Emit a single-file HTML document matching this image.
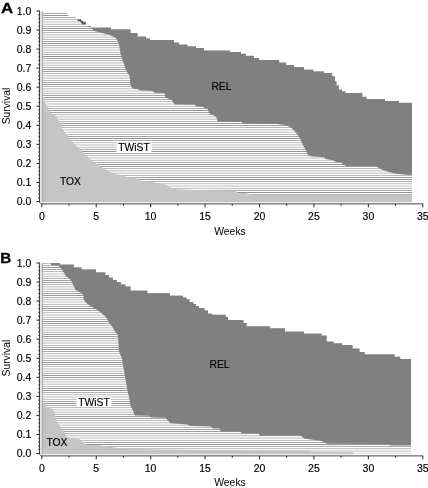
<!DOCTYPE html>
<html><head><meta charset="utf-8"><title>Partitioned survival plots</title>
<style>
html,body{margin:0;padding:0;background:#fff;}
body{width:428px;height:488px;overflow:hidden;}
svg{display:block;font-family:"Liberation Sans",sans-serif;}
</style></head><body>
<svg width="428" height="488" viewBox="0 0 428 488">
<rect width="428" height="488" fill="#fff"/>
<defs>
<pattern id="hatchA" patternUnits="userSpaceOnUse" x="0" y="10.800" width="10" height="2.159"><rect width="10" height="2.159" fill="#fff"/><rect y="0" width="10" height="0.40" fill="#363636"/></pattern>
<pattern id="hatchB" patternUnits="userSpaceOnUse" x="0" y="262.800" width="10" height="2.159"><rect width="10" height="2.159" fill="#fff"/><rect y="0" width="10" height="0.40" fill="#363636"/></pattern>
</defs>
<clipPath id="cA"><polygon points="41.8,12.3 67.1,12.3 67.1,14.5 68.3,14.5 68.3,16.9 75.9,16.9 75.9,19.1 81.1,19.1 81.1,21.4 85.8,21.4 85.8,23.8 86.5,23.8 86.5,26.0 91.0,26.0 91.0,27.6 111.0,27.6 111.0,29.2 130.5,29.2 130.5,33.0 137.6,33.0 137.6,36.6 146.0,36.6 146.0,38.2 150.0,38.2 150.0,40.0 174.0,40.0 174.0,42.5 179.0,42.5 179.0,44.5 187.5,44.5 187.5,46.2 196.0,46.2 196.0,48.0 204.0,48.0 204.0,50.5 230.0,50.5 230.0,52.0 241.0,52.0 241.0,53.7 246.0,53.7 246.0,55.7 254.0,55.7 254.0,58.0 259.0,58.0 259.0,60.0 279.0,60.0 279.0,62.5 286.0,62.5 286.0,65.0 294.0,65.0 294.0,67.0 304.0,67.0 304.0,69.7 313.3,69.7 313.3,71.4 323.9,71.4 323.9,73.0 332.1,73.0 332.1,76.3 335.0,76.3 335.0,81.2 336.5,81.2 336.5,85.3 338.8,85.3 338.8,89.4 342.0,89.4 342.0,91.3 345.5,91.3 345.5,93.0 362.4,93.0 362.4,96.7 366.5,96.7 366.5,98.9 385.0,98.9 385.0,101.1 399.0,101.1 399.0,102.8 412.0,102.8 412.0,201.5 41.8,201.5"/></clipPath>
<g clip-path="url(#cA)">
<rect x="41.8" y="9.0" width="370.2" height="194.5" fill="url(#hatchA)"/>
<polygon points="87.5,8.0 87.5,25.6 87.5,26.6 91.0,27.4 92.5,29.5 95.0,31.2 103.0,33.2 110.0,35.0 116.0,38.0 119.0,44.0 120.5,53.7 122.7,61.0 125.0,67.0 126.0,70.0 129.5,76.0 130.5,85.0 132.5,88.6 138.4,89.2 140.1,90.4 152.4,91.0 154.7,92.7 164.7,93.0 165.3,97.5 171.7,99.9 172.9,102.2 175.2,104.5 195.0,104.8 196.2,106.4 203.5,106.7 204.0,108.4 207.6,108.7 208.8,112.5 210.5,114.3 215.2,116.0 217.0,118.4 217.5,121.7 241.5,122.0 242.6,123.3 277.0,124.0 285.4,125.1 291.0,127.6 294.5,131.1 298.0,135.3 300.9,140.2 303.0,145.2 305.8,150.0 307.9,155.0 312.0,156.4 324.2,157.3 325.6,158.9 333.3,160.3 335.4,161.7 341.7,162.4 342.4,164.1 346.0,165.9 376.0,166.2 378.5,167.8 383.0,170.3 394.5,173.4 405.8,174.8 412.0,175.0 413.0,175.0 413.0,8.0" fill="#808080"/>
</g>
<rect x="77.6" y="19.3" width="3.5" height="1.9" fill="#5c5c5c"/>
<rect x="80.3" y="20.6" width="2.7" height="2.0" fill="#5c5c5c"/>
<rect x="81.6" y="21.8" width="4.2" height="2.6" fill="#5c5c5c"/>
<polygon points="41.0,97.0 41.9,97.0 42.8,99.2 44.9,102.7 47.7,107.6 49.8,112.5 56.1,116.0 58.9,121.0 61.0,126.6 64.5,132.2 68.8,137.1 73.0,142.0 76.5,146.4 79.2,148.4 84.8,154.0 89.0,158.2 93.2,161.7 99.5,166.0 107.3,170.2 114.3,173.7 124.1,175.8 125.5,177.2 135.6,177.5 138.4,180.2 153.1,182.3 165.0,184.4 172.0,187.9 176.3,189.3 195.0,190.0 236.0,191.0 237.5,193.0 245.0,193.0 252.5,194.8 412.0,194.8 412.0,202.2 41.0,202.2" fill="#c5c5c5"/>
<rect x="40.3" y="11.3" width="2.2" height="190.9" fill="#d9d9d9"/>
<rect x="42.4" y="11.3" width="0.7" height="190.9" fill="#9a9a9a"/>
<g stroke="#222" stroke-width="0.85" fill="none">
<polyline points="39.5,10.6 39.5,202.2 41.2,203.9 423.2,203.9"/>
</g><g stroke="#222" stroke-width="1">
<line x1="36.4" y1="201.50" x2="39.5" y2="201.50"/>
<line x1="38.3" y1="197.69" x2="39.5" y2="197.69"/>
<line x1="38.3" y1="193.88" x2="39.5" y2="193.88"/>
<line x1="38.3" y1="190.07" x2="39.5" y2="190.07"/>
<line x1="38.3" y1="186.26" x2="39.5" y2="186.26"/>
<line x1="36.4" y1="182.45" x2="39.5" y2="182.45"/>
<line x1="38.3" y1="178.64" x2="39.5" y2="178.64"/>
<line x1="38.3" y1="174.83" x2="39.5" y2="174.83"/>
<line x1="38.3" y1="171.02" x2="39.5" y2="171.02"/>
<line x1="38.3" y1="167.21" x2="39.5" y2="167.21"/>
<line x1="36.4" y1="163.40" x2="39.5" y2="163.40"/>
<line x1="38.3" y1="159.59" x2="39.5" y2="159.59"/>
<line x1="38.3" y1="155.78" x2="39.5" y2="155.78"/>
<line x1="38.3" y1="151.97" x2="39.5" y2="151.97"/>
<line x1="38.3" y1="148.16" x2="39.5" y2="148.16"/>
<line x1="36.4" y1="144.35" x2="39.5" y2="144.35"/>
<line x1="38.3" y1="140.54" x2="39.5" y2="140.54"/>
<line x1="38.3" y1="136.73" x2="39.5" y2="136.73"/>
<line x1="38.3" y1="132.92" x2="39.5" y2="132.92"/>
<line x1="38.3" y1="129.11" x2="39.5" y2="129.11"/>
<line x1="36.4" y1="125.30" x2="39.5" y2="125.30"/>
<line x1="38.3" y1="121.49" x2="39.5" y2="121.49"/>
<line x1="38.3" y1="117.68" x2="39.5" y2="117.68"/>
<line x1="38.3" y1="113.87" x2="39.5" y2="113.87"/>
<line x1="38.3" y1="110.06" x2="39.5" y2="110.06"/>
<line x1="36.4" y1="106.25" x2="39.5" y2="106.25"/>
<line x1="38.3" y1="102.44" x2="39.5" y2="102.44"/>
<line x1="38.3" y1="98.63" x2="39.5" y2="98.63"/>
<line x1="38.3" y1="94.82" x2="39.5" y2="94.82"/>
<line x1="38.3" y1="91.01" x2="39.5" y2="91.01"/>
<line x1="36.4" y1="87.20" x2="39.5" y2="87.20"/>
<line x1="38.3" y1="83.39" x2="39.5" y2="83.39"/>
<line x1="38.3" y1="79.58" x2="39.5" y2="79.58"/>
<line x1="38.3" y1="75.77" x2="39.5" y2="75.77"/>
<line x1="38.3" y1="71.96" x2="39.5" y2="71.96"/>
<line x1="36.4" y1="68.15" x2="39.5" y2="68.15"/>
<line x1="38.3" y1="64.34" x2="39.5" y2="64.34"/>
<line x1="38.3" y1="60.53" x2="39.5" y2="60.53"/>
<line x1="38.3" y1="56.72" x2="39.5" y2="56.72"/>
<line x1="38.3" y1="52.91" x2="39.5" y2="52.91"/>
<line x1="36.4" y1="49.10" x2="39.5" y2="49.10"/>
<line x1="38.3" y1="45.29" x2="39.5" y2="45.29"/>
<line x1="38.3" y1="41.48" x2="39.5" y2="41.48"/>
<line x1="38.3" y1="37.67" x2="39.5" y2="37.67"/>
<line x1="38.3" y1="33.86" x2="39.5" y2="33.86"/>
<line x1="36.4" y1="30.05" x2="39.5" y2="30.05"/>
<line x1="38.3" y1="26.24" x2="39.5" y2="26.24"/>
<line x1="38.3" y1="22.43" x2="39.5" y2="22.43"/>
<line x1="38.3" y1="18.62" x2="39.5" y2="18.62"/>
<line x1="38.3" y1="14.81" x2="39.5" y2="14.81"/>
<line x1="36.4" y1="11.00" x2="39.5" y2="11.00"/>
<line x1="41.80" y1="203.9" x2="41.80" y2="207.3"/>
<line x1="69.01" y1="203.9" x2="69.01" y2="205.7"/>
<line x1="96.22" y1="203.9" x2="96.22" y2="207.3"/>
<line x1="123.44" y1="203.9" x2="123.44" y2="205.7"/>
<line x1="150.65" y1="203.9" x2="150.65" y2="207.3"/>
<line x1="177.86" y1="203.9" x2="177.86" y2="205.7"/>
<line x1="205.07" y1="203.9" x2="205.07" y2="207.3"/>
<line x1="232.29" y1="203.9" x2="232.29" y2="205.7"/>
<line x1="259.50" y1="203.9" x2="259.50" y2="207.3"/>
<line x1="286.71" y1="203.9" x2="286.71" y2="205.7"/>
<line x1="313.93" y1="203.9" x2="313.93" y2="207.3"/>
<line x1="341.14" y1="203.9" x2="341.14" y2="205.7"/>
<line x1="368.35" y1="203.9" x2="368.35" y2="207.3"/>
<line x1="395.56" y1="203.9" x2="395.56" y2="205.7"/>
<line x1="422.77" y1="203.9" x2="422.77" y2="207.3"/>
</g>
<g font-size="10.5" fill="#000" stroke="#000" stroke-width="0.15">
<text x="31.3" y="205.3" text-anchor="end">0.0</text>
<text x="31.3" y="186.2" text-anchor="end">0.1</text>
<text x="31.3" y="167.2" text-anchor="end">0.2</text>
<text x="31.3" y="148.2" text-anchor="end">0.3</text>
<text x="31.3" y="129.1" text-anchor="end">0.4</text>
<text x="31.3" y="110.0" text-anchor="end">0.5</text>
<text x="31.3" y="91.0" text-anchor="end">0.6</text>
<text x="31.3" y="72.0" text-anchor="end">0.7</text>
<text x="31.3" y="52.9" text-anchor="end">0.8</text>
<text x="31.3" y="33.9" text-anchor="end">0.9</text>
<text x="31.3" y="14.8" text-anchor="end">1.0</text>
<text x="41.8" y="219.8" text-anchor="middle">0</text>
<text x="96.2" y="219.8" text-anchor="middle">5</text>
<text x="150.6" y="219.8" text-anchor="middle">10</text>
<text x="205.1" y="219.8" text-anchor="middle">15</text>
<text x="259.5" y="219.8" text-anchor="middle">20</text>
<text x="313.9" y="219.8" text-anchor="middle">25</text>
<text x="368.4" y="219.8" text-anchor="middle">30</text>
<text x="422.8" y="219.8" text-anchor="middle">35</text>
</g>
<text x="230" y="234.9" text-anchor="middle" font-size="10.4" fill="#000">Weeks</text>
<text transform="translate(9.5,106.0) rotate(-90)" text-anchor="middle" font-size="10.3" fill="#000">Survival</text>
<text transform="translate(1.0,12.5) scale(1.17,1)" font-size="14.4" font-weight="bold" fill="#000" stroke="#000" stroke-width="0.3">A</text>
<rect x="116.5" y="142.4" width="35" height="9.6" fill="#fff"/>
<text x="134.0" y="150.9" text-anchor="middle" font-size="10.3" fill="#000" stroke="#000" stroke-width="0.15">TWiST</text>
<text x="70.5" y="184.7" text-anchor="middle" font-size="10.3" fill="#000" stroke="#000" stroke-width="0.15">TOX</text>
<text x="221.4" y="90.3" text-anchor="middle" font-size="10.3" fill="#000" stroke="#000" stroke-width="0.15">REL</text>
<clipPath id="cB"><polygon points="41.8,263.0 59.7,263.0 59.7,264.6 73.8,264.6 73.8,267.6 81.5,267.6 81.5,269.5 96.0,269.5 96.0,272.3 105.4,272.3 105.4,275.0 109.0,275.0 109.0,277.6 113.0,277.6 113.0,280.0 117.0,280.0 117.0,282.3 121.0,282.3 121.0,284.4 125.5,284.4 125.5,286.5 130.5,286.5 130.5,290.4 147.5,290.4 147.5,293.3 170.0,293.3 170.0,295.7 183.0,295.7 183.0,297.5 186.5,297.5 186.5,299.3 189.5,299.3 189.5,302.0 193.5,302.0 193.5,304.0 196.0,304.0 196.0,306.0 199.0,306.0 199.0,308.0 204.5,308.0 204.5,310.6 208.0,310.6 208.0,313.4 212.0,313.4 212.0,314.8 225.8,314.8 225.8,317.0 228.0,317.0 228.0,319.9 243.5,319.9 243.5,323.0 246.5,323.0 246.5,326.3 270.0,326.3 270.0,328.3 285.0,328.3 285.0,331.5 304.0,331.5 304.0,333.5 321.5,333.5 321.5,335.6 326.7,335.6 326.7,341.5 333.6,341.5 333.6,343.2 342.0,343.2 342.0,345.0 352.6,345.0 352.6,348.4 359.5,348.4 359.5,352.0 364.7,352.0 364.7,354.2 394.6,354.2 394.6,356.7 400.2,356.7 400.2,359.1 411.0,359.1 411.0,453.5 41.8,453.5"/></clipPath>
<g clip-path="url(#cB)">
<rect x="41.8" y="261.0" width="369.2" height="194.5" fill="url(#hatchB)"/>
<polygon points="51.0,260.0 51.0,263.2 51.0,265.0 58.4,265.5 62.6,270.6 65.8,275.9 71.0,280.0 75.2,289.5 80.5,292.7 83.5,295.0 83.6,299.7 87.0,303.8 91.7,306.7 96.4,309.6 102.2,313.7 106.3,317.2 108.6,321.9 112.1,326.5 115.0,331.2 118.0,335.3 118.4,342.0 119.0,351.2 121.8,358.2 123.2,366.6 125.3,377.9 126.7,386.3 128.1,393.3 129.0,397.0 130.4,405.4 133.2,411.0 134.6,415.4 149.3,415.7 150.8,417.5 165.5,417.8 167.6,420.2 170.4,423.2 187.5,424.5 190.0,426.0 211.0,426.6 213.0,428.6 219.0,428.6 221.0,431.5 240.5,431.5 242.0,433.5 258.5,433.5 260.0,435.8 301.0,435.8 304.0,438.4 321.5,441.0 326.7,443.8 389.0,444.0 390.0,445.6 411.0,445.6 412.0,445.6 412.0,260.0" fill="#808080"/>
</g>
<polygon points="41.0,400.0 41.9,400.0 42.8,402.0 46.3,406.9 52.6,409.0 54.7,413.2 55.4,418.8 58.2,423.0 61.0,428.0 64.5,432.2 66.6,437.1 72.3,438.5 80.0,439.2 83.5,443.4 86.3,444.8 100.0,445.3 105.0,446.3 117.5,448.0 126.0,449.0 200.0,450.0 311.0,450.6 311.0,452.0 353.0,452.2 353.0,453.5 353.0,454.2 41.0,454.2" fill="#c5c5c5"/>
<rect x="40.3" y="263.3" width="2.2" height="190.9" fill="#d9d9d9"/>
<rect x="42.4" y="263.3" width="0.7" height="190.9" fill="#9a9a9a"/>
<g stroke="#222" stroke-width="0.85" fill="none">
<polyline points="39.5,262.6 39.5,454.2 41.2,455.9 423.2,455.9"/>
</g><g stroke="#222" stroke-width="1">
<line x1="36.4" y1="453.50" x2="39.5" y2="453.50"/>
<line x1="38.3" y1="449.69" x2="39.5" y2="449.69"/>
<line x1="38.3" y1="445.88" x2="39.5" y2="445.88"/>
<line x1="38.3" y1="442.07" x2="39.5" y2="442.07"/>
<line x1="38.3" y1="438.26" x2="39.5" y2="438.26"/>
<line x1="36.4" y1="434.45" x2="39.5" y2="434.45"/>
<line x1="38.3" y1="430.64" x2="39.5" y2="430.64"/>
<line x1="38.3" y1="426.83" x2="39.5" y2="426.83"/>
<line x1="38.3" y1="423.02" x2="39.5" y2="423.02"/>
<line x1="38.3" y1="419.21" x2="39.5" y2="419.21"/>
<line x1="36.4" y1="415.40" x2="39.5" y2="415.40"/>
<line x1="38.3" y1="411.59" x2="39.5" y2="411.59"/>
<line x1="38.3" y1="407.78" x2="39.5" y2="407.78"/>
<line x1="38.3" y1="403.97" x2="39.5" y2="403.97"/>
<line x1="38.3" y1="400.16" x2="39.5" y2="400.16"/>
<line x1="36.4" y1="396.35" x2="39.5" y2="396.35"/>
<line x1="38.3" y1="392.54" x2="39.5" y2="392.54"/>
<line x1="38.3" y1="388.73" x2="39.5" y2="388.73"/>
<line x1="38.3" y1="384.92" x2="39.5" y2="384.92"/>
<line x1="38.3" y1="381.11" x2="39.5" y2="381.11"/>
<line x1="36.4" y1="377.30" x2="39.5" y2="377.30"/>
<line x1="38.3" y1="373.49" x2="39.5" y2="373.49"/>
<line x1="38.3" y1="369.68" x2="39.5" y2="369.68"/>
<line x1="38.3" y1="365.87" x2="39.5" y2="365.87"/>
<line x1="38.3" y1="362.06" x2="39.5" y2="362.06"/>
<line x1="36.4" y1="358.25" x2="39.5" y2="358.25"/>
<line x1="38.3" y1="354.44" x2="39.5" y2="354.44"/>
<line x1="38.3" y1="350.63" x2="39.5" y2="350.63"/>
<line x1="38.3" y1="346.82" x2="39.5" y2="346.82"/>
<line x1="38.3" y1="343.01" x2="39.5" y2="343.01"/>
<line x1="36.4" y1="339.20" x2="39.5" y2="339.20"/>
<line x1="38.3" y1="335.39" x2="39.5" y2="335.39"/>
<line x1="38.3" y1="331.58" x2="39.5" y2="331.58"/>
<line x1="38.3" y1="327.77" x2="39.5" y2="327.77"/>
<line x1="38.3" y1="323.96" x2="39.5" y2="323.96"/>
<line x1="36.4" y1="320.15" x2="39.5" y2="320.15"/>
<line x1="38.3" y1="316.34" x2="39.5" y2="316.34"/>
<line x1="38.3" y1="312.53" x2="39.5" y2="312.53"/>
<line x1="38.3" y1="308.72" x2="39.5" y2="308.72"/>
<line x1="38.3" y1="304.91" x2="39.5" y2="304.91"/>
<line x1="36.4" y1="301.10" x2="39.5" y2="301.10"/>
<line x1="38.3" y1="297.29" x2="39.5" y2="297.29"/>
<line x1="38.3" y1="293.48" x2="39.5" y2="293.48"/>
<line x1="38.3" y1="289.67" x2="39.5" y2="289.67"/>
<line x1="38.3" y1="285.86" x2="39.5" y2="285.86"/>
<line x1="36.4" y1="282.05" x2="39.5" y2="282.05"/>
<line x1="38.3" y1="278.24" x2="39.5" y2="278.24"/>
<line x1="38.3" y1="274.43" x2="39.5" y2="274.43"/>
<line x1="38.3" y1="270.62" x2="39.5" y2="270.62"/>
<line x1="38.3" y1="266.81" x2="39.5" y2="266.81"/>
<line x1="36.4" y1="263.00" x2="39.5" y2="263.00"/>
<line x1="41.80" y1="455.9" x2="41.80" y2="459.3"/>
<line x1="69.01" y1="455.9" x2="69.01" y2="457.7"/>
<line x1="96.22" y1="455.9" x2="96.22" y2="459.3"/>
<line x1="123.44" y1="455.9" x2="123.44" y2="457.7"/>
<line x1="150.65" y1="455.9" x2="150.65" y2="459.3"/>
<line x1="177.86" y1="455.9" x2="177.86" y2="457.7"/>
<line x1="205.07" y1="455.9" x2="205.07" y2="459.3"/>
<line x1="232.29" y1="455.9" x2="232.29" y2="457.7"/>
<line x1="259.50" y1="455.9" x2="259.50" y2="459.3"/>
<line x1="286.71" y1="455.9" x2="286.71" y2="457.7"/>
<line x1="313.93" y1="455.9" x2="313.93" y2="459.3"/>
<line x1="341.14" y1="455.9" x2="341.14" y2="457.7"/>
<line x1="368.35" y1="455.9" x2="368.35" y2="459.3"/>
<line x1="395.56" y1="455.9" x2="395.56" y2="457.7"/>
<line x1="422.77" y1="455.9" x2="422.77" y2="459.3"/>
</g>
<g font-size="10.5" fill="#000" stroke="#000" stroke-width="0.15">
<text x="31.3" y="457.3" text-anchor="end">0.0</text>
<text x="31.3" y="438.2" text-anchor="end">0.1</text>
<text x="31.3" y="419.2" text-anchor="end">0.2</text>
<text x="31.3" y="400.2" text-anchor="end">0.3</text>
<text x="31.3" y="381.1" text-anchor="end">0.4</text>
<text x="31.3" y="362.1" text-anchor="end">0.5</text>
<text x="31.3" y="343.0" text-anchor="end">0.6</text>
<text x="31.3" y="323.9" text-anchor="end">0.7</text>
<text x="31.3" y="304.9" text-anchor="end">0.8</text>
<text x="31.3" y="285.9" text-anchor="end">0.9</text>
<text x="31.3" y="266.8" text-anchor="end">1.0</text>
<text x="41.8" y="471.8" text-anchor="middle">0</text>
<text x="96.2" y="471.8" text-anchor="middle">5</text>
<text x="150.6" y="471.8" text-anchor="middle">10</text>
<text x="205.1" y="471.8" text-anchor="middle">15</text>
<text x="259.5" y="471.8" text-anchor="middle">20</text>
<text x="313.9" y="471.8" text-anchor="middle">25</text>
<text x="368.4" y="471.8" text-anchor="middle">30</text>
<text x="422.8" y="471.8" text-anchor="middle">35</text>
</g>
<text x="230" y="485.6" text-anchor="middle" font-size="10.4" fill="#000">Weeks</text>
<text transform="translate(9.5,358.1) rotate(-90)" text-anchor="middle" font-size="10.3" fill="#000">Survival</text>
<text transform="translate(0.3,263.0) scale(1.06,1)" font-size="14.4" font-weight="bold" fill="#000" stroke="#000" stroke-width="0.3">B</text>
<rect x="76.5" y="397.2" width="35" height="9.6" fill="#fff"/>
<text x="94.0" y="405.7" text-anchor="middle" font-size="10.3" fill="#000" stroke="#000" stroke-width="0.15">TWiST</text>
<text x="57.0" y="446.2" text-anchor="middle" font-size="10.3" fill="#000" stroke="#000" stroke-width="0.15">TOX</text>
<text x="219.5" y="368.2" text-anchor="middle" font-size="10.3" fill="#000" stroke="#000" stroke-width="0.15">REL</text>
</svg>
</body></html>
